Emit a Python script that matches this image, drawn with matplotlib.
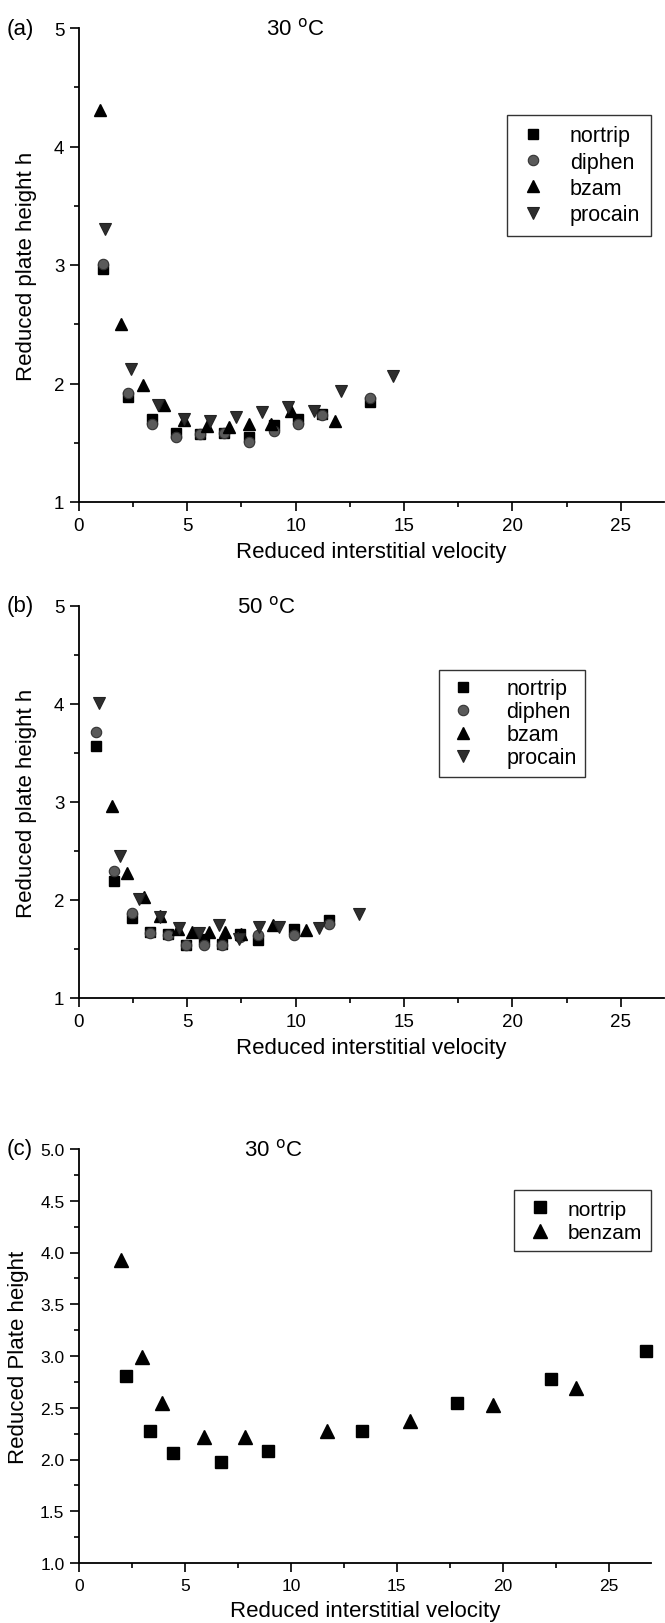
import matplotlib
matplotlib.use("Agg")
import matplotlib.pyplot as plt
from matplotlib.ticker import MultipleLocator, FormatStrFormatter

plt.rcParams['font.family'] = ['Liberation Sans', 'DejaVu Sans']

# panel (a), 30 C
a_nortrip_x = [1.11, 2.24, 3.35, 4.49, 5.59, 6.70, 7.85, 8.98, 10.1, 11.2, 13.45]
a_nortrip_y = [2.97, 1.89, 1.70, 1.58, 1.57, 1.58, 1.55, 1.65, 1.70, 1.74, 1.84]
a_diphen_x = [1.11, 2.24, 3.35, 4.49, 5.59, 6.70, 7.85, 8.98, 10.1, 11.2, 13.45]
a_diphen_y = [3.01, 1.92, 1.66, 1.55, 1.57, 1.58, 1.51, 1.60, 1.66, 1.73, 1.88]
a_bzam_x = [0.99, 1.96, 2.96, 3.92, 4.86, 5.9, 6.9, 7.85, 8.87, 9.8, 11.8]
a_bzam_y = [4.31, 2.50, 1.99, 1.82, 1.69, 1.64, 1.63, 1.66, 1.66, 1.77, 1.68]
a_procain_x = [1.22, 2.39, 3.66, 4.86, 6.05, 7.24, 8.44, 9.65, 10.86, 12.1, 14.5]
a_procain_y = [3.30, 2.12, 1.82, 1.70, 1.68, 1.72, 1.76, 1.80, 1.77, 1.94, 2.06]

# panel (b), 50 C
b_nortrip_x = [0.8, 1.62, 2.45, 3.27, 4.11, 4.95, 5.77, 6.59, 7.43, 8.26, 9.9, 11.56]
b_nortrip_y = [3.57, 2.19, 1.82, 1.67, 1.65, 1.54, 1.60, 1.55, 1.65, 1.59, 1.70, 1.80]
b_diphen_x = [0.8, 1.62, 2.45, 3.27, 4.11, 4.95, 5.77, 6.59, 7.43, 8.26, 9.9, 11.56]
b_diphen_y = [3.71, 2.30, 1.87, 1.66, 1.64, 1.54, 1.54, 1.54, 1.62, 1.64, 1.64, 1.76]
b_bzam_x = [1.5, 2.23, 2.99, 3.74, 4.56, 5.22, 5.99, 6.75, 7.46, 8.96, 10.47]
b_bzam_y = [2.96, 2.28, 2.03, 1.84, 1.70, 1.67, 1.67, 1.67, 1.65, 1.74, 1.69]
b_procain_x = [0.94, 1.87, 2.76, 3.72, 4.6, 5.55, 6.47, 7.4, 8.3, 9.23, 11.08, 12.94]
b_procain_y = [4.01, 2.45, 2.01, 1.83, 1.71, 1.66, 1.74, 1.60, 1.72, 1.72, 1.71, 1.86]

# panel (c), 30 C
c_nortrip_x = [2.24, 3.36, 4.46, 6.70, 8.92, 13.38, 17.84, 22.30, 26.78]
c_nortrip_y = [2.81, 2.28, 2.06, 1.98, 2.08, 2.28, 2.55, 2.78, 3.05]
c_benzam_x = [1.98, 2.96, 3.92, 5.88, 7.82, 11.72, 15.64, 19.54, 23.44]
c_benzam_y = [3.93, 2.99, 2.55, 2.22, 2.22, 2.28, 2.37, 2.53, 2.69]

fig = plt.figure(figsize=(6.65, 16.24), dpi=100)
W, H = 665, 1624


def make_axes(left, right, top, bottom):
    return fig.add_axes([left / W, 1 - bottom / H, (right - left) / W, (bottom - top) / H])


def style(ax, ymajor, yminor, tick_fs):
    ax.spines['top'].set_visible(False)
    ax.spines['right'].set_visible(False)
    for s in ('left', 'bottom'):
        ax.spines[s].set_linewidth(1.3)
    ax.set_xlim(0, 27)
    ax.set_ylim(1, 5)
    ax.xaxis.set_major_locator(MultipleLocator(5))
    ax.xaxis.set_minor_locator(MultipleLocator(2.5))
    ax.yaxis.set_major_locator(MultipleLocator(ymajor))
    ax.yaxis.set_minor_locator(MultipleLocator(yminor))
    ax.tick_params(which='major', direction='out', length=6.5, width=1.2, labelsize=tick_fs, pad=4)
    ax.tick_params(which='minor', direction='out', length=3.5, width=1.2)
    ax.set_xlabel('Reduced interstitial velocity', fontsize=16, labelpad=5)


def add_legend(ax, loc, anchor, fs, hl, htp, ls, bp):
    leg = ax.legend(loc=loc, bbox_to_anchor=anchor, fontsize=fs, frameon=True,
                    fancybox=False, edgecolor='black', handletextpad=htp, handlelength=hl,
                    labelspacing=ls, borderpad=bp, borderaxespad=0)
    leg.get_frame().set_linewidth(1.0)


circ_kw = dict(marker='o', ms=7.5, mfc='#5a5a5a', mec='#333333', mew=0.8, ls='none', label='diphen')
down_kw = dict(marker='v', ms=9, mfc='#2e2e2e', mec='#222222', mew=0.8, ls='none', label='procain')


def four_series(ax, nx, ny, dx, dy, bx, by, px, py):
    ax.plot(nx, ny, marker='s', ms=7, color='black', ls='none', label='nortrip')
    ax.plot(dx, dy, **circ_kw)
    ax.plot(bx, by, marker='^', ms=9, color='black', ls='none', label='bzam')
    ax.plot(px, py, **down_kw)


# (a)
ax1 = make_axes(79, 664, 29, 503)
style(ax1, 1, 0.5, 13.5)
four_series(ax1, a_nortrip_x, a_nortrip_y, a_diphen_x, a_diphen_y,
            a_bzam_x, a_bzam_y, a_procain_x, a_procain_y)
add_legend(ax1, 'upper right', (0.978, 0.8175), 15.5, 1.42, 1.0, 0.25, 0.5)
ax1.set_ylabel('Reduced plate height h', fontsize=16, labelpad=12)
ax1.text(0.37, 1.0, '30 $^{\\rm o}$C', transform=ax1.transAxes, fontsize=16, ha='center', va='center')
fig.text(7 / W, 1 - 29 / H, '(a)', fontsize=16, va='center')

# (b)
ax2 = make_axes(79, 664, 607, 999)
style(ax2, 1, 0.5, 13.5)
four_series(ax2, b_nortrip_x, b_nortrip_y, b_diphen_x, b_diphen_y,
            b_bzam_x, b_bzam_y, b_procain_x, b_procain_y)
add_legend(ax2, 'upper left', (0.615, 0.8375), 15.5, 1.43, 1.3, 0.09, 0.4)
ax2.set_ylabel('Reduced plate height h', fontsize=16, labelpad=12)
ax2.text(0.32, 1.0, '50 $^{\\rm o}$C', transform=ax2.transAxes, fontsize=16, ha='center', va='center')
fig.text(7 / W, 1 - 607 / H, '(b)', fontsize=16, va='center')

# (c)
ax3 = make_axes(79, 651, 1150, 1564)
style(ax3, 0.5, 0.25, 12.5)
ax3.yaxis.set_major_formatter(FormatStrFormatter('%.1f'))
ax3.plot(c_nortrip_x, c_nortrip_y, marker='s', ms=8, color='black', ls='none',
         label='nortrip', clip_on=False)
ax3.plot(c_benzam_x, c_benzam_y, marker='^', ms=9.5, color='black', ls='none', label='benzam')
add_legend(ax3, 'upper right', (1.0, 0.90), 15, 1.55, 0.55, 0.2, 0.45)
ax3.set_ylabel('Reduced Plate height', fontsize=16, labelpad=8)
ax3.text(0.34, 1.0, '30 $^{\\rm o}$C', transform=ax3.transAxes, fontsize=16, ha='center', va='center')
fig.text(7 / W, 1 - 1150 / H, '(c)', fontsize=16, va='center')

fig.savefig('out.png', dpi=100)
